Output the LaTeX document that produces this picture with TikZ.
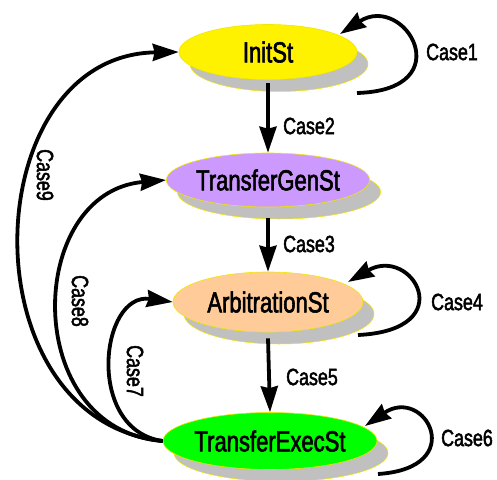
\documentclass[tikz,border=0pt]{standalone}
\usepackage{fontspec}
\setmainfont{Liberation Sans}[FakeStretch=0.76,FakeBold=2]
\usetikzlibrary{arrows.meta,shapes.geometric,shadows,calc}
\definecolor{shgray}{RGB}{192,192,192}
\definecolor{lav}{RGB}{204,153,255}
\definecolor{peach}{RGB}{255,204,153}
\definecolor{brdr}{RGB}{240,230,0}
\begin{document}
\begin{tikzpicture}[x=1pt,y=-1pt,
  state/.style={ellipse,draw=brdr,line width=0.6pt,inner sep=0pt,
    font=\fontsize{29}{30}\selectfont,
    drop shadow={shadow xshift=11pt,shadow yshift=-12pt,fill=shgray,opacity=1,draw=brdr,line width=0.5pt}},
  arr/.style={line width=3.8pt,-{Stealth[length=26pt,width=17pt,inset=2pt]}},
  lbl/.style={font=\fontsize{23.5}{24}\selectfont,inner sep=0pt}]
\path[use as bounding box] (0,0) rectangle (497,479);
\node[state,fill=yellow,minimum width=178pt,minimum height=55pt] (init) at (268,52) {InitSt};
\node[state,fill=lav,minimum width=190pt,minimum height=54pt] (gen) at (268,180) {TransferGenSt};
\node[state,fill=peach,minimum width=190pt,minimum height=60pt] (arb) at (268,302) {ArbitrationSt};
\node[state,fill=green,minimum width=214pt,minimum height=57pt] (exec) at (270,441) {TransferExecSt};

% straight transitions
\draw[arr] ($(init.south)+(0,3)$) -- (gen.north);
\draw[arr] ($(gen.south)+(0,11)$) -- (arb.north);
\draw[arr] ($(arb.south)+(0,6)$) -- (exec.north);
\node[lbl] (c2) at (309,126) {Case2};
\node[lbl] (c3) at (309,244) {Case3};
\node[lbl] (c5) at (312,377) {Case5};

% self loops
\coordinate (s1) at ($(init.center)+(89,41)$);
\coordinate (e1) at ($(init.center)+(72,-18)$);
\draw[arr] (s1) .. controls (462,90) and (405,-8) .. (e1);
\node[lbl] (c1) at (452,52) {Case1};
\coordinate (s4) at ($(arb.center)+(90,33)$);
\coordinate (e4) at ($(arb.center)+(80,-20)$);
\draw[arr] (s4) .. controls (462,330) and (412,245) .. (e4);
\node[lbl] (c4) at (457,302) {Case4};
\coordinate (s6) at ($(exec.center)+(108,33)$);
\coordinate (e6) at ($(exec.center)+(95,-15)$);
\draw[arr] (s6) .. controls (470,468) and (425,385) .. (e6);
\node[lbl] (c6) at (467,438) {Case6};

% back transitions
\draw[arr] (exec.west) .. controls (85,430) and (100,292) .. (arb.west);
\draw[arr] (exec.west) .. controls (20,430) and (25,192) .. (gen.west);
\draw[arr] (exec.west) .. controls (-35,420) and (-25,55) .. (init.west);
\node[lbl,rotate=-90] (c7) at (135,371) {Case7};
\node[lbl,rotate=-90] (c8) at (80,301) {Case8};
\node[lbl,rotate=-90] (c9) at (45,175) {Case9};
\end{tikzpicture}
\end{document}
